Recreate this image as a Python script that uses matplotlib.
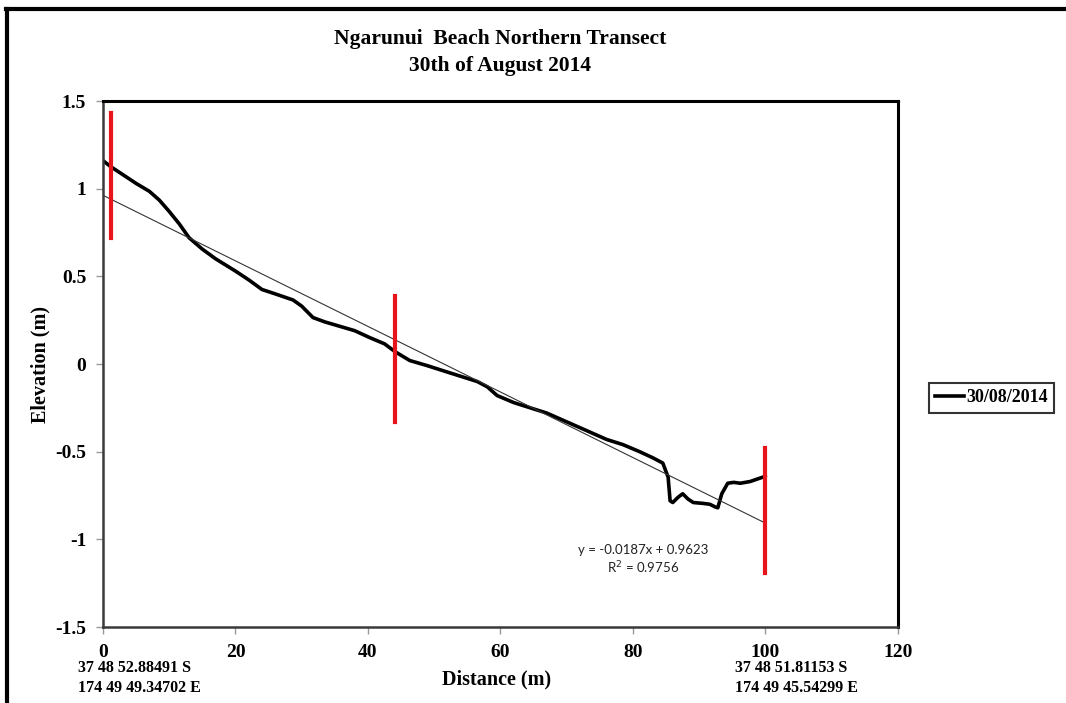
import numpy as np
import matplotlib
matplotlib.use("Agg")
import matplotlib.pyplot as plt
from matplotlib.lines import Line2D

# Beach profile survey, distance along transect (m) vs elevation (m)
distance = [0, 1.2, 3, 5, 7, 8.5, 10, 11.5, 13, 15, 17, 20, 22, 24, 26, 28.7,
            30, 31.7, 33.5, 35.3, 38, 40.3, 42.5, 44.1, 46.3, 49, 51.9, 54,
            56.5, 58, 59.5, 62, 64.5, 67, 70, 73, 76, 78.5, 81, 83, 84.5, 85.3,
            85.6, 86.0, 86.8, 87.5, 88.3, 89.1, 90.6, 91.6, 92.4, 92.8, 93.4,
            94.3, 95.2, 96.2, 97.7, 100]
elevation = [1.16, 1.125, 1.08, 1.03, 0.985, 0.935, 0.87, 0.80, 0.72, 0.655,
             0.60, 0.53, 0.48, 0.425, 0.40, 0.365, 0.33, 0.265, 0.24, 0.22,
             0.19, 0.15, 0.115, 0.07, 0.02, -0.01, -0.045, -0.07, -0.10,
             -0.13, -0.18, -0.22, -0.25, -0.28, -0.33, -0.38, -0.43, -0.46,
             -0.50, -0.535, -0.565, -0.645, -0.78, -0.79, -0.76, -0.74, -0.77,
             -0.79, -0.795, -0.80, -0.815, -0.82, -0.74, -0.68, -0.675, -0.68,
             -0.67, -0.64]

# linear trend
slope = -0.0187
intercept = 0.9623
r2 = 0.9756

# survey pegs (x, bottom, top)
peg_x = [1.2, 44.1, 100]
peg_lo = [0.72, -0.33, -1.19]
peg_hi = [1.43, 0.39, -0.48]

xticks = [0, 20, 40, 60, 80, 100, 120]
yticks = [-1.5, -1, -0.5, 0, 0.5, 1, 1.5]

serif = "Liberation Serif"

fig = plt.figure(figsize=(10.66, 7.03), dpi=100)
ax = fig.add_axes([0.0966, 0.1081, 0.7458, 0.7482])

ax.plot(distance, elevation, color="black", lw=2.6, solid_joinstyle="round",
        solid_capstyle="round", label="30/08/2014")
tx = np.array([0, 100])
ax.plot(tx, slope * tx + intercept, color="#333333", lw=0.8)
for px, lo, hi in zip(peg_x, peg_lo, peg_hi):
    ax.plot([px, px], [lo, hi], color="#e8141c", lw=3)

ax.set_xlim(0, 120)
ax.set_ylim(-1.5, 1.5)
ax.set_xticks(xticks)
ax.set_yticks(yticks)
ax.set_xticklabels([str(v) for v in xticks])
ax.set_yticklabels(["-1.5", "-1", "-0.5", "0", "0.5", "1", "1.5"])
for lab in ax.get_xticklabels() + ax.get_yticklabels():
    lab.set_fontfamily(serif)
    lab.set_fontweight("bold")
    lab.set_fontsize(14)
ax.tick_params(direction="out", length=5, width=1, color="#999999", pad=7)

for side in ["top", "right"]:
    ax.spines[side].set_color("black")
    ax.spines[side].set_linewidth(2.2)
for side in ["left", "bottom"]:
    ax.spines[side].set_color("#3a3a3a")
    ax.spines[side].set_linewidth(1.8)

ax.text(0.679, 0.146, "y = -0.0187x + 0.9623", transform=ax.transAxes,
        ha="center", va="center", fontsize=9.5, family="Lato", color="#222222")
ax.text(0.679, 0.112, "R$^2$ = %.4f" % r2, transform=ax.transAxes,
        ha="center", va="center", fontsize=9.5, family="Lato", color="#222222")

fig.text(0.469, 1 - 39 / 703, "Ngarunui  Beach Northern Transect",
         ha="center", va="center", family=serif, fontweight="bold", fontsize=15.5)
fig.text(0.469, 1 - 66 / 703, "30th of August 2014",
         ha="center", va="center", family=serif, fontweight="bold", fontsize=15.5)

fig.text(40 / 1066, 1 - 364 / 703, "Elevation (m)", rotation=90,
         ha="center", va="center", family=serif, fontweight="bold", fontsize=14.5)
fig.text(497 / 1066, 1 - 679 / 703, "Distance (m)",
         ha="center", va="center", family=serif, fontweight="bold", fontsize=14.5)

for x0, lines in [(78, ["37 48 52.88491 S", "174 49 49.34702 E"]),
                  (735, ["37 48 51.81153 S", "174 49 45.54299 E"])]:
    for i, s in enumerate(lines):
        fig.text(x0 / 1066, 1 - (668 + 20 * i) / 703, s, ha="left", va="center",
                 family=serif, fontweight="bold", fontsize=11.5)

leg = fig.legend(handles=[Line2D([], [], color="black", lw=2.6)],
                 labels=["30/08/2014"], loc="center left",
                 bbox_to_anchor=(929 / 1066, 1 - 398 / 703),
                 prop={"family": serif, "weight": "bold", "size": 13},
                 handlelength=1.6, handletextpad=0.1, borderpad=0.35,
                 borderaxespad=0, frameon=True, fancybox=False)
leg.get_frame().set_edgecolor("black")
leg.get_frame().set_linewidth(1.5)

# outer border (top and left edges)
fig.add_artist(Line2D([6 / 1066, 1], [1 - 8.5 / 703, 1 - 8.5 / 703],
                      transform=fig.transFigure, color="black", lw=3))
fig.add_artist(Line2D([6.5 / 1066, 6.5 / 1066], [0, 1 - 8.5 / 703],
                      transform=fig.transFigure, color="black", lw=3))

fig.savefig("out.png", dpi=100)
